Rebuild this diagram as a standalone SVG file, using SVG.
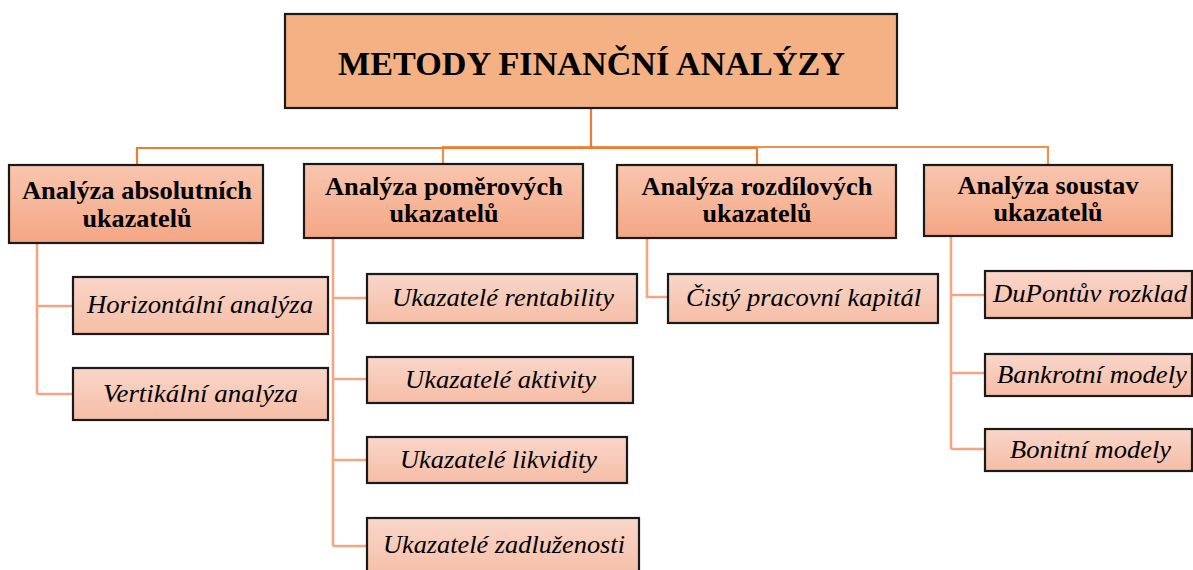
<svg xmlns="http://www.w3.org/2000/svg" width="1193" height="570" viewBox="0 0 1193 570">
  <defs>
    <linearGradient id="gHead" x1="0" y1="0" x2="0" y2="1">
      <stop offset="0" stop-color="#F8C6AF"/>
      <stop offset="1" stop-color="#F4A684"/>
    </linearGradient>
    <linearGradient id="gItem" x1="0" y1="0" x2="0" y2="1">
      <stop offset="0" stop-color="#F9D6C9"/>
      <stop offset="1" stop-color="#F5BDA6"/>
    </linearGradient>
    <style>
      .box { stroke: #1a1a1a; stroke-width: 2.2; }
      .title { fill: #F4B183; }
      .head { fill: url(#gHead); }
      .item { fill: url(#gItem); }
      text { font-family: "Liberation Serif", Tinos, "Times New Roman", "DejaVu Serif", serif; fill: #000; text-anchor: middle; }
      .tt { font-weight: bold; font-size: 34px; }
      .ht { font-weight: bold; font-size: 26px; }
      .it { font-style: italic; font-size: 25px; }
      .main { fill: none; stroke: #ED7D31; stroke-width: 2.2; }
      .sub { fill: none; stroke: #F4A582; stroke-width: 2.6; }
    </style>
  </defs>
  <rect width="1193" height="570" fill="#fff"/>

  <!-- connectors -->
  <g id="connectors">
    <path class="main" d="M591,108 V148"/>
    <path class="main" d="M137,165 V148 H757 V165"/>
    <path class="main" d="M443,164 V147 H1048 V165" stroke-opacity="0.85"/>
    <path class="sub" d="M37,243 V394 M37,306 H73 M37,394 H73"/>
    <path class="sub" d="M333,238 V546 M333,298 H367 M333,379 H367 M333,460 H367 M333,546 H367"/>
    <path class="sub" d="M647,238 V297 H668"/>
    <path class="sub" d="M951,236 V449 M951,295 H985 M951,373 H985 M951,449 H985"/>
  </g>

  <!-- root -->
  <g id="root">
    <rect class="box title" x="285" y="14" width="612" height="94"/>
    <text class="tt" x="591.5" y="75" textLength="507" lengthAdjust="spacingAndGlyphs">METODY FINANČNÍ ANALÝZY</text>
  </g>

  <!-- second level -->
  <g id="absolutni">
    <rect class="box head" x="9" y="165" width="254" height="78"/>
    <text class="ht" x="137" y="199" textLength="230" lengthAdjust="spacingAndGlyphs">Analýza absolutních</text>
    <text class="ht" x="137" y="227" textLength="109" lengthAdjust="spacingAndGlyphs">ukazatelů</text>
  </g>
  <g id="pomerove">
    <rect class="box head" x="304" y="164" width="279" height="74"/>
    <text class="ht" x="444" y="195" textLength="238" lengthAdjust="spacingAndGlyphs">Analýza poměrových</text>
    <text class="ht" x="444" y="222" textLength="109" lengthAdjust="spacingAndGlyphs">ukazatelů</text>
  </g>
  <g id="rozdilove">
    <rect class="box head" x="617" y="165" width="279" height="73"/>
    <text class="ht" x="757" y="195" textLength="231" lengthAdjust="spacingAndGlyphs">Analýza rozdílových</text>
    <text class="ht" x="757" y="222" textLength="109" lengthAdjust="spacingAndGlyphs">ukazatelů</text>
  </g>
  <g id="soustavy">
    <rect class="box head" x="924" y="165" width="248" height="71"/>
    <text class="ht" x="1048" y="194" textLength="181" lengthAdjust="spacingAndGlyphs">Analýza soustav</text>
    <text class="ht" x="1048" y="221" textLength="109" lengthAdjust="spacingAndGlyphs">ukazatelů</text>
  </g>

  <!-- third level -->
  <g id="horizontalni">
    <rect class="box item" x="73" y="277" width="255" height="57"/>
    <text class="it" x="200" y="313" textLength="226" lengthAdjust="spacingAndGlyphs">Horizontální analýza</text>
  </g>
  <g id="vertikalni">
    <rect class="box item" x="73" y="368" width="255" height="52"/>
    <text class="it" x="200.5" y="402" textLength="195" lengthAdjust="spacingAndGlyphs">Vertikální analýza</text>
  </g>
  <g id="rentabilita">
    <rect class="box item" x="367" y="274" width="270" height="49"/>
    <text class="it" x="503" y="306" textLength="222" lengthAdjust="spacingAndGlyphs">Ukazatelé rentability</text>
  </g>
  <g id="aktivita">
    <rect class="box item" x="367" y="357" width="266" height="46"/>
    <text class="it" x="500.5" y="388" textLength="191" lengthAdjust="spacingAndGlyphs">Ukazatelé aktivity</text>
  </g>
  <g id="likvidita">
    <rect class="box item" x="367" y="437" width="260" height="46"/>
    <text class="it" x="498.5" y="468" textLength="197" lengthAdjust="spacingAndGlyphs">Ukazatelé likvidity</text>
  </g>
  <g id="zadluzenost">
    <rect class="box item" x="367" y="518" width="272" height="62"/>
    <text class="it" x="504" y="553" textLength="242" lengthAdjust="spacingAndGlyphs">Ukazatelé zadluženosti</text>
  </g>
  <g id="cisty-pracovni-kapital">
    <rect class="box item" x="668" y="274" width="270" height="49"/>
    <text class="it" x="803.5" y="306" textLength="235" lengthAdjust="spacingAndGlyphs">Čistý pracovní kapitál</text>
  </g>
  <g id="dupont">
    <rect class="box item" x="985" y="271" width="207" height="47"/>
    <text class="it" x="1090" y="302" textLength="194" lengthAdjust="spacingAndGlyphs">DuPontův rozklad</text>
  </g>
  <g id="bankrotni">
    <rect class="box item" x="985" y="354" width="207" height="42"/>
    <text class="it" x="1092" y="383" textLength="190" lengthAdjust="spacingAndGlyphs">Bankrotní modely</text>
  </g>
  <g id="bonitni">
    <rect class="box item" x="985" y="429" width="207" height="42"/>
    <text class="it" x="1090.5" y="458" textLength="161" lengthAdjust="spacingAndGlyphs">Bonitní modely</text>
  </g>
</svg>
